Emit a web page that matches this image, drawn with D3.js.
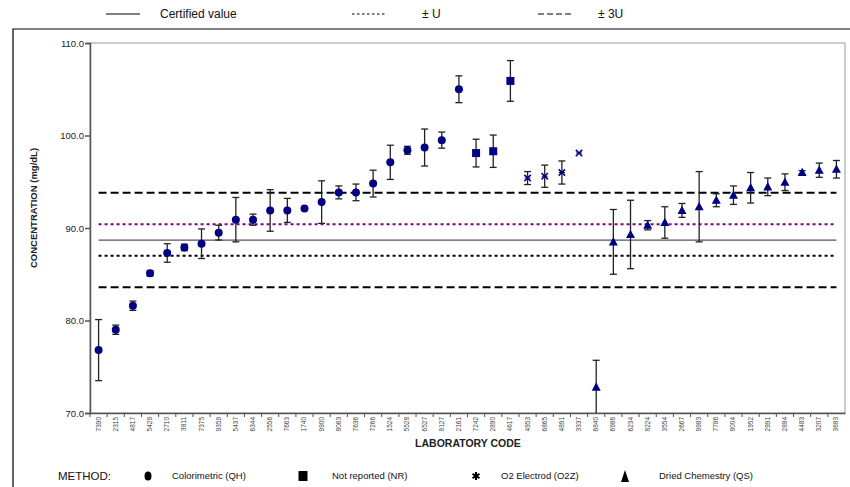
<!DOCTYPE html>
<html>
<head>
<meta charset="utf-8">
<script src="https://cdnjs.cloudflare.com/ajax/libs/d3/7.8.5/d3.min.js"></script>
<style>
  body { margin: 0; background: #fff; }
  svg { display: block; font-family: "Liberation Sans", Arial, sans-serif; }
</style>
</head>
<body>
<div id="container"></div>
<script>
// ******* Data *******
var labs = ["7390","2315","4817","5429","2710","3811","7375","9359","5437","6344",
  "2556","7663","1740","9900","8063","7636","7266","1524","5528","6527",
  "8127","2161","7242","2890","4617","4953","6865","4891","3337","6840",
  "6986","6234","8224","3554","2667","9983","7786","8004","1952","2991",
  "2884","4483","3207","3683"];
var methods = ["QH","QH","QH","QH","QH","QH","QH","QH","QH","QH",
  "QH","QH","QH","QH","QH","QH","QH","QH","QH","QH",
  "QH","QH","NR","NR","NR","O2Z","O2Z","O2Z","O2Z","QS",
  "QS","QS","QS","QS","QS","QS","QS","QS","QS","QS",
  "QS","QS","QS","QS"];
var values = [76.8, 79.0, 81.6, 85.1, 87.3, 87.9, 88.3, 89.5, 90.9, 90.9,
  91.9, 91.9, 92.1, 92.8, 93.85, 93.85, 94.8, 97.1, 98.4, 98.7,
  99.5, 105.0, 98.1, 98.3, 105.9, 95.4, 95.6, 96.0, 98.1, 72.8,
  88.5, 89.3, 90.3, 90.6, 91.9, 92.3, 93.0, 93.55, 94.35, 94.45,
  94.95, 96.0, 96.25, 96.35];
var errors = [3.3, 0.5, 0.5, 0.3, 1.0, 0.35, 1.6, 0.8, 2.4, 0.6,
  2.25, 1.3, 0, 2.3, 0.7, 0.9, 1.45, 1.85, 0.43, 2.0,
  0.87, 1.45, 1.5, 1.75, 2.2, 0.7, 1.2, 1.25, 0, 2.9,
  3.5, 3.7, 0.5, 1.7, 0.75, 3.8, 0.7, 1.0, 1.65, 0.95,
  0.9, 0.2, 0.77, 0.95];
var yTicks = [70, 80, 90, 100, 110];
var certified = 88.7;
var U = 1.7;
var methodNames = {"QH": "Colorimetric (QH)", "NR": "Not reported (NR)", "O2Z": "O2 Electrod  (O2Z)", "QS": "Dried Chemestry (QS)"};

var width = 850, height = 487;
var plotLeft = 90, plotRight = 845, plotTop = 43, plotBottom = 413;
var navy = "#000080";

var svg = d3.select("#container").append("svg")
  .attr("width", width)
  .attr("height", height)

// ******* Scales *******
var x = d3.scaleBand().domain(labs).range([plotLeft, plotRight]);
var y = d3.scaleLinear().domain([70, 110]).range([plotBottom, plotTop]);
function cx(lab) { return x(lab) + x.bandwidth() / 2; }

// outer frame (only top and left edges visible)
svg.append("path")
  .attr("d", "M13,487 L13,29 L850,29")
  .attr("fill", "none")
  .attr("stroke", "#000")
  .attr("stroke-width", 1.2);

// plot area border
svg.append("rect")
  .attr("x", plotLeft).attr("y", plotTop)
  .attr("width", plotRight - plotLeft).attr("height", plotBottom - plotTop)
  .attr("fill", "none")
  .attr("stroke", "#999")
  .attr("stroke-width", 1);

// ******* Axes *******
var yAxis = d3.axisLeft(y).tickValues(yTicks).tickSize(5).tickFormat(d3.format(".1f"));
var gy = svg.append("g")
  .attr("transform", "translate(" + plotLeft + ",0)")
  .call(yAxis);
gy.select(".domain").attr("stroke", "#555").attr("stroke-width", 1.5);
gy.selectAll(".tick line").attr("stroke", "#555").attr("stroke-width", 1.5);
gy.selectAll("text").style("font-size", "9.5px").attr("fill", "#222").attr("x", -6);

var xAxis = d3.axisBottom(x).tickSize(0);
var gx = svg.append("g")
  .attr("transform", "translate(0," + plotBottom + ")")
  .call(xAxis);
gx.select(".domain").attr("stroke", "#555").attr("stroke-width", 1.5);
gx.selectAll("text")
  .style("font-size", "6.5px")
  .attr("fill", "#444")
  .style("text-anchor", "end")
  .attr("dx", "-4px")
  .attr("dy", "2px")
  .attr("transform", "rotate(-90)")
  .attr("x", 0).attr("y", 0);

// tick marks between categories
svg.append("g").selectAll("line")
  .data(labs)
  .enter().append("line")
  .attr("x1", function(d) { return x(d); })
  .attr("x2", function(d) { return x(d); })
  .attr("y1", plotBottom)
  .attr("y2", plotBottom + 4)
  .attr("stroke", "#555");

// ******* Reference lines *******
var x0 = cx(labs[0]), x1 = cx(labs[labs.length - 1]);
var refs = [
  {v: certified, color: "#555", dash: null, w: 1.3},
  {v: certified + U, color: "#800080", dash: "3,3", w: 2},
  {v: certified - U, color: "#000", dash: "3,3", w: 2},
  {v: certified + 3 * U, color: "#000", dash: "8,4", w: 2},
  {v: certified - 3 * U, color: "#000", dash: "8,4", w: 2}
];
svg.append("g").selectAll("line")
  .data(refs)
  .enter().append("line")
  .attr("x1", x0).attr("x2", x1)
  .attr("y1", function(d) { return y(d.v); })
  .attr("y2", function(d) { return y(d.v); })
  .attr("stroke", function(d) { return d.color; })
  .attr("stroke-width", function(d) { return d.w; })
  .attr("stroke-dasharray", function(d) { return d.dash; });

// ******* Error bars *******
var pts = labs.map(function(lab, i) {
  return {lab: lab, method: methods[i], v: values[i], e: errors[i]};
});
var clampY = function(v) { return y(Math.max(70, Math.min(110, v))); };
var eb = svg.append("g").selectAll("g")
  .data(pts.filter(function(d) { return d.e > 0; }))
  .enter().append("g")
  .attr("stroke", "#222")
  .attr("stroke-width", 1.3);
eb.append("line")
  .attr("x1", function(d) { return cx(d.lab); })
  .attr("x2", function(d) { return cx(d.lab); })
  .attr("y1", function(d) { return clampY(d.v + d.e); })
  .attr("y2", function(d) { return clampY(d.v - d.e); });
eb.append("line")
  .attr("x1", function(d) { return cx(d.lab) - 3.5; })
  .attr("x2", function(d) { return cx(d.lab) + 3.5; })
  .attr("y1", function(d) { return y(d.v + d.e); })
  .attr("y2", function(d) { return y(d.v + d.e); });
eb.filter(function(d) { return d.v - d.e >= 70; }).append("line")
  .attr("x1", function(d) { return cx(d.lab) - 3.5; })
  .attr("x2", function(d) { return cx(d.lab) + 3.5; })
  .attr("y1", function(d) { return y(d.v - d.e); })
  .attr("y2", function(d) { return y(d.v - d.e); });

// ******* Markers *******
function drawMarker(sel, method) {
  if (method == "QH") {
    sel.append("circle").attr("r", 4).attr("fill", navy);
  } else if (method == "NR") {
    sel.append("rect").attr("x", -4).attr("y", -4).attr("width", 8).attr("height", 8).attr("fill", navy);
  } else if (method == "O2Z") {
    sel.append("path").attr("d", d3.symbol().type(d3.symbolTimes).size(28)())
      .attr("fill", "none").attr("stroke", navy).attr("stroke-width", 1.6);
    sel.append("path").attr("d", "M-3,0 L3,0")
      .attr("stroke", navy).attr("stroke-width", 1);
  } else {
    sel.append("path").attr("d", "M0,-4.8 L4.5,3.6 L-4.5,3.6 Z").attr("fill", navy);
  }
}
svg.append("g").selectAll("g")
  .data(pts)
  .enter().append("g")
  .attr("transform", function(d) { return "translate(" + cx(d.lab) + "," + y(d.v) + ")"; })
  .each(function(d) { drawMarker(d3.select(this), d.method); });

// ******* Axis titles *******
svg.append("text")
  .attr("text-anchor", "middle")
  .attr("transform", "translate(37," + ((plotTop + plotBottom) / 2 - 20) + ")rotate(-90)")
  .style("font-size", "9.5px")
  .style("font-weight", "bold")
  .attr("fill", "#222")
  .text("CONCENTRATION  (mg/dL)");

svg.append("text")
  .attr("text-anchor", "middle")
  .attr("x", 468).attr("y", 447)
  .style("font-size", "10.5px")
  .style("font-weight", "bold")
  .attr("fill", "#222")
  .text("LABORATORY CODE");

// ******* Top legend *******
var topLegend = [
  {label: "Certified value", dash: null, lx: 106, tx: 160},
  {label: "\u00b1 U", dash: "2.5,2.5", lx: 352, tx: 422},
  {label: "\u00b1 3U", dash: "6,3", lx: 538, tx: 598}
];
var tl = svg.append("g").selectAll("g").data(topLegend).enter().append("g");
tl.append("line")
  .attr("x1", function(d) { return d.lx; })
  .attr("x2", function(d) { return d.lx + 34; })
  .attr("y1", 14).attr("y2", 14)
  .attr("stroke", "#000")
  .attr("stroke-width", 1)
  .attr("stroke-dasharray", function(d) { return d.dash; });
tl.append("text")
  .attr("x", function(d) { return d.tx; })
  .attr("y", 18)
  .style("font-size", "12px")
  .attr("fill", "#111")
  .text(function(d) { return d.label; });

// ******* Bottom legend *******
svg.append("text")
  .attr("x", 58).attr("y", 480)
  .style("font-size", "11.5px")
  .attr("fill", "#111")
  .text("METHOD:");
var botLegend = [
  {m: "QH", mx: 148, tx: 172},
  {m: "NR", mx: 303, tx: 332},
  {m: "O2Z", mx: 476, tx: 501},
  {m: "QS", mx: 625, tx: 659}
];
var bl = svg.append("g").selectAll("g").data(botLegend).enter().append("g");
bl.append("g")
  .attr("transform", function(d) { return "translate(" + d.mx + ",476)"; })
  .each(function(d) {
    var g = d3.select(this);
    if (d.m == "QH") g.append("ellipse").attr("rx", 3.5).attr("ry", 4.5).attr("fill", "#000");
    else if (d.m == "NR") g.append("rect").attr("x", -4.5).attr("y", -5).attr("width", 9).attr("height", 10).attr("fill", "#000");
    else if (d.m == "O2Z") g.append("path").attr("d", d3.symbol().type(d3.symbolAsterisk).size(45)())
      .attr("fill", "none").attr("stroke", "#000").attr("stroke-width", 2);
    else g.append("path").attr("d", "M0,-6 L4,6 L-4,6 Z").attr("fill", "#000");
  });
bl.append("text")
  .attr("x", function(d) { return d.tx; })
  .attr("y", 479)
  .style("font-size", "9.5px")
  .attr("fill", "#111")
  .text(function(d) { return methodNames[d.m]; });
</script>
</body>
</html>
